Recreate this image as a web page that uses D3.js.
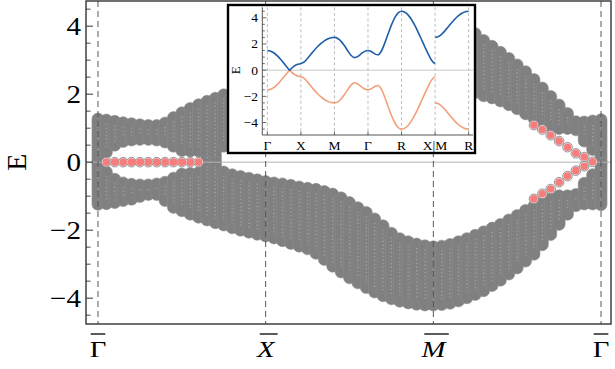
<!DOCTYPE html>
<html><head><meta charset="utf-8">
<script src="https://cdn.jsdelivr.net/npm/d3@7"></script>
<style>body{margin:0;background:#fff}svg{display:block}</style>
</head><body>
<svg id="c" width="615" height="369"></svg>
<script>
// ---------------- data (main slab spectrum, k index 0..60) ----------------
const kLabels = ["Γ", "X", "M", "Γ"];
const kLabelIdx = [0, 20, 40, 60];
const kLabelItalic = [false, true, true, false];
const yMajorTicks = [-4, -2, 0, 2, 4];
const yMinorTicks = [-4.5,-3.5,-3,-2.5,-1.5,-1,-0.5,0.5,1,1.5,2.5,3,3.5,4.5];

// upper band (energy of top-most / bottom-most state per k)
const upperTop = [1.27,1.24,1.20,1.16,1.13,1.10,1.08,1.08,1.15,1.31,
  1.45,1.58,1.69,1.79,1.88,1.98,2.03,2.09,2.14,2.19,
  2.23,2.29,2.37,2.45,2.53,2.61,2.73,2.89,3.08,3.25,
  3.41,3.56,3.70,3.83,3.93,4.02,4.09,4.14,4.18,4.20,
  4.20,4.19,4.15,4.08,3.95,3.78,3.58,3.41,3.23,3.05,
  2.86,2.66,2.43,2.18,1.93,1.68,1.43,1.19,1.18,1.21,1.25];
const upperBot = [0,0.29,0.50,0.61,0.65,0.67,0.67,0.65,0.59,0.47,
  0.34,0.33,0.33,0,0,0.47,0.47,0.52,0.57,0.62,
  0.67,0.71,0.74,0.78,0.83,0.87,0.90,0.96,1.04,1.15,
  1.29,1.44,1.58,1.77,1.97,2.17,2.32,2.42,2.47,2.50,
  2.52,2.50,2.45,2.37,2.22,2.05,1.95,1.89,1.80,1.69,
  1.57,1.42,1.29,1.17,1.05,0.99,0.99,0.95,0.62,0.37,0];
// lower band
const lowerTop = [0,-0.29,-0.50,-0.61,-0.65,-0.67,-0.67,-0.64,-0.59,-0.47,
  -0.35,-0.33,-0.31,0,0,-0.29,-0.37,-0.42,-0.47,-0.52,
  -0.57,-0.61,-0.64,-0.68,-0.73,-0.77,-0.80,-0.86,-0.94,-1.05,
  -1.19,-1.34,-1.48,-1.67,-1.87,-2.09,-2.25,-2.34,-2.41,-2.46,
  -2.49,-2.47,-2.42,-2.34,-2.25,-2.15,-2.05,-1.94,-1.83,-1.70,
  -1.57,-1.42,-1.29,-1.15,-1.05,-0.99,-0.99,-0.95,-0.62,-0.37,0];
const lowerBot = [-1.24,-1.22,-1.19,-1.13,-1.09,-1.01,-0.95,-0.95,-1.13,-1.33,
  -1.43,-1.53,-1.62,-1.70,-1.78,-1.85,-1.93,-2.00,-2.06,-2.12,
  -2.17,-2.23,-2.31,-2.39,-2.47,-2.55,-2.68,-2.86,-3.06,-3.23,
  -3.40,-3.55,-3.69,-3.82,-3.93,-4.02,-4.09,-4.14,-4.18,-4.20,
  -4.20,-4.19,-4.15,-4.08,-3.99,-3.89,-3.78,-3.63,-3.47,-3.29,
  -3.11,-2.91,-2.71,-2.43,-2.13,-1.83,-1.53,-1.28,-1.23,-1.23,-1.25];

// surface (Fermi-arc) states
const surfIdx = [1,2,3,4,5,6,7,8,9,10,11,12,
  52,53,54,55,56,57,58, 52,53,54,55,56,57,58, 59];
const surfE = [0,0,0,0,0,0,0,0,0,0,0,0,
  1.09,0.96,0.79,0.62,0.44,0.26,0.15, -1.08,-0.93,-0.79,-0.59,-0.41,-0.25,-0.12, 0.01];

// ---------------- data (inset bulk bands) ----------------
const insetLabels = ["Γ","X","M","Γ","R","X|M","R"];
const insetTicks = [-4,-2,0,2,4];
const insetK1 = [0,0.1,0.2,0.3,0.4,0.5,0.6,0.6667,0.7,0.8,0.9,1,
  1.1,1.2,1.3,1.4,1.5,1.6,1.7,1.8,1.9,2,
  2.1,2.2,2.3,2.4,2.5,2.6,2.7,2.8,2.9,3,
  3.1,3.2,3.3,3.4,3.5,3.6,3.7,3.8,3.9,4,
  4.1,4.2,4.3,4.4,4.5,4.6,4.7,4.8,4.9,5];
const insetUp1 = [1.5,1.451,1.309,1.088,0.809,0.5,0.191,0,0.088,0.309,0.451,0.5,
  0.630,0.907,1.219,1.524,1.803,2.044,2.239,2.382,2.470,2.5,
  2.422,2.198,1.861,1.468,1.118,0.959,1.054,1.263,1.436,1.5,
  1.422,1.245,1.174,1.462,2.062,2.775,3.459,4.014,4.375,4.5,
  4.424,4.201,3.850,3.396,2.872,2.313,1.750,1.212,0.741,0.5];
const insetDn1 = [-1.5,-1.451,-1.309,-1.088,-0.809,-0.5,-0.191,0,-0.088,-0.309,-0.451,-0.5,
  -0.630,-0.907,-1.219,-1.524,-1.803,-2.044,-2.239,-2.382,-2.470,-2.5,
  -2.422,-2.198,-1.861,-1.468,-1.118,-0.959,-1.054,-1.263,-1.436,-1.5,
  -1.422,-1.245,-1.174,-1.462,-2.062,-2.775,-3.459,-4.014,-4.375,-4.5,
  -4.424,-4.201,-3.850,-3.396,-2.872,-2.313,-1.750,-1.212,-0.741,-0.5];
const insetK2 = [5,5.1,5.2,5.3,5.4,5.5,5.6,5.7,5.8,5.9,6];
const insetUp2 = [2.5,2.568,2.754,3.022,3.330,3.640,3.926,4.167,4.349,4.462,4.5];
const insetDn2 = [-2.5,-2.568,-2.754,-3.022,-3.330,-3.640,-3.926,-4.167,-4.349,-4.462,-4.5];

// ---------------- drawing ----------------
const svg = d3.select("#c");
const FONT = "'Liberation Serif','Times New Roman',serif";
const x = d3.scaleLinear().domain([-1.43, 61.19]).range([86, 611]);
const y = d3.scaleLinear().domain([-4.76, 4.74]).range([324, 1]);
const R = 6;
const GRAY = "#808080";

svg.append("defs").append("clipPath").attr("id","plotclip")
  .append("rect").attr("x",86).attr("y",1).attr("width",525).attr("height",323);

const plot = svg.append("g").attr("clip-path","url(#plotclip)");

// band columns (range marks with round ends)
const cols = [];
d3.range(upperTop.length).forEach(i => {
  cols.push({i, lo: Math.min(upperBot[i], upperTop[i]), hi: Math.max(upperBot[i], upperTop[i])});
  cols.push({i, lo: Math.min(lowerBot[i], lowerTop[i]), hi: Math.max(lowerBot[i], lowerTop[i])});
});
plot.append("g").selectAll("rect").data(cols).join("rect")
  .attr("x", d => x(d.i) - R)
  .attr("width", 2*R)
  .attr("y", d => y(d.hi) - R)
  .attr("height", d => y(d.lo) - y(d.hi) + 2*R)
  .attr("rx", R).attr("ry", R)
  .attr("fill", GRAY)
  .attr("stroke", "#8c8c8c").attr("stroke-width", 0.6);
// faint level texture inside each column
plot.append("g").selectAll("line").data(cols.filter(d => d.hi - d.lo > 0.25)).join("line")
  .attr("x1", d => x(d.i)).attr("x2", d => x(d.i))
  .attr("y1", d => y(d.hi) + 4).attr("y2", d => y(d.lo) - 4)
  .attr("stroke", "#b2b2b2").attr("stroke-width", 1.3)
  .attr("stroke-dasharray", "1.1,2.6").attr("opacity", 0.75);

// zero line
plot.append("line").attr("x1",86).attr("x2",611).attr("y1",y(0)).attr("y2",y(0))
  .attr("stroke","#b4b4b4").attr("stroke-width",1);

// dashed high-symmetry lines
plot.append("g").selectAll("line").data(kLabelIdx).join("line")
  .attr("x1", d => x(d)).attr("x2", d => x(d)).attr("y1", 1).attr("y2", 324)
  .attr("stroke","#555").attr("stroke-width",1).attr("stroke-dasharray","6,4");

// surface states
const sg = plot.append("g");
sg.selectAll("circle.ring").data(surfIdx).join("circle").attr("class","ring")
  .attr("cx",(d)=>x(d)).attr("cy",(d,j)=>y(surfE[j])).attr("r",4.8)
  .attr("fill","#ececec").attr("stroke","#8a8a8a").attr("stroke-width",0.9);
sg.selectAll("circle.dot").data(surfIdx).join("circle").attr("class","dot")
  .attr("cx",(d)=>x(d)).attr("cy",(d,j)=>y(surfE[j])).attr("r",3.8)
  .attr("fill","#f77c7c");

// frame
svg.append("rect").attr("x",86).attr("y",1).attr("width",525).attr("height",323)
  .attr("fill","none").attr("stroke","#333").attr("stroke-width",1.4);

// y ticks
const ax = svg.append("g");
ax.selectAll("line.maj").data(yMajorTicks).join("line").attr("class","maj")
  .attr("x1",86).attr("x2",93).attr("y1",d=>y(d)).attr("y2",d=>y(d)).attr("stroke","#333").attr("stroke-width",1);
ax.selectAll("line.min").data(yMinorTicks).join("line").attr("class","min")
  .attr("x1",86).attr("x2",90.5).attr("y1",d=>y(d)).attr("y2",d=>y(d)).attr("stroke","#333").attr("stroke-width",0.9);
ax.selectAll("text").data(yMajorTicks).join("text")
  .attr("transform", d => `translate(81,${y(d)+9}) scale(1.12,1)`)
  .attr("text-anchor","end").attr("font-family",FONT).attr("font-size",26)
  .text(d => d < 0 ? "\u2212" + Math.abs(d) : String(d));
svg.append("text").attr("transform",`translate(26,${y(0)}) rotate(-90)`)
  .attr("text-anchor","middle").attr("font-family",FONT).attr("font-size",28).text("E");

// bottom labels with overbars
kLabels.forEach((lab, j) => {
  const t = svg.append("text")
    .attr("transform", `translate(${x(kLabelIdx[j])},357) scale(1.25,1)`)
    .attr("text-anchor","middle").attr("font-family",FONT).attr("font-size",23)
    .attr("font-style", kLabelItalic[j] ? "italic" : "normal").text(lab);
  const bb = t.node().getBBox();
  const sx = 1.25, cx = x(kLabelIdx[j]);
  const shift = kLabelItalic[j] ? 3 : 0;
  svg.append("line").attr("x1", cx + bb.x*sx + 1 + shift).attr("x2", cx + (bb.x+bb.width)*sx - 1 + shift)
    .attr("y1",334).attr("y2",334).attr("stroke","#000").attr("stroke-width",1.3);
});

// ---------------- inset ----------------
const ig = svg.append("g");
ig.append("rect").attr("x",228).attr("y",5).attr("width",247).attr("height",148)
  .attr("fill","#fff").attr("stroke","#000").attr("stroke-width",2.4);
const ix = d3.scaleLinear().domain([-0.15, 6.13]).range([262.3, 473]);
const iy = d3.scaleLinear().domain([-4.95, 4.8]).range([135, 7.3]);
// dashed k lines
ig.selectAll("line.kd").data(d3.range(insetLabels.length)).join("line").attr("class","kd")
  .attr("x1",d=>ix(d)).attr("x2",d=>ix(d)).attr("y1",iy(4.8)).attr("y2",iy(-4.95))
  .attr("stroke","#aaa").attr("stroke-width",0.8).attr("stroke-dasharray","3,2.5");
ig.append("line").attr("x1",ix(-0.15)).attr("x2",ix(6.13)).attr("y1",iy(0)).attr("y2",iy(0))
  .attr("stroke","#c8c8c8").attr("stroke-width",1);
// axes
ig.append("line").attr("x1",262.3).attr("x2",262.3).attr("y1",iy(4.8)).attr("y2",135).attr("stroke","#444").attr("stroke-width",0.9);
ig.append("line").attr("x1",262.3).attr("x2",473).attr("y1",135).attr("y2",135).attr("stroke","#444").attr("stroke-width",0.9);
const iMinor = d3.range(-4.5, 4.6, 0.5).filter(v => Math.abs(v % 2) > 1e-6);
ig.selectAll("line.imin").data(iMinor).join("line").attr("class","imin")
  .attr("x1",262.3).attr("x2",264.8).attr("y1",d=>iy(d)).attr("y2",d=>iy(d)).attr("stroke","#444").attr("stroke-width",0.8);
ig.selectAll("line.imaj").data(insetTicks).join("line").attr("class","imaj")
  .attr("x1",262.3).attr("x2",266.3).attr("y1",d=>iy(d)).attr("y2",d=>iy(d)).attr("stroke","#444").attr("stroke-width",0.8);
ig.selectAll("line.ibt").data(d3.range(insetLabels.length)).join("line").attr("class","ibt")
  .attr("x1",d=>ix(d)).attr("x2",d=>ix(d)).attr("y1",135).attr("y2",131.5).attr("stroke","#444").attr("stroke-width",0.8);
ig.selectAll("text.iyl").data(insetTicks).join("text").attr("class","iyl")
  .attr("x",258).attr("y",d=>iy(d)+4.5).attr("text-anchor","end")
  .attr("font-family",FONT).attr("font-size",13.5).text(d => d < 0 ? "\u2212" + Math.abs(d) : String(d));
ig.selectAll("text.ixl").data(insetLabels).join("text").attr("class","ixl")
  .attr("x",(d,j)=>ix(j)).attr("y",149.5).attr("text-anchor","middle")
  .attr("font-family",FONT).attr("font-size",13.5).text(d=>d);
ig.append("text").attr("transform",`translate(240,${iy(0)}) rotate(-90)`).attr("text-anchor","middle")
  .attr("font-family",FONT).attr("font-size",13).text("E");
// curves
const iline = d3.line().x(d=>ix(d[0])).y(d=>iy(d[1])).curve(d3.curveMonotoneX);
const curves = [
  [insetK1, insetDn1, "#f2a07b"], [insetK2, insetDn2, "#f2a07b"],
  [insetK1, insetUp1, "#1f5ea8"], [insetK2, insetUp2, "#1f5ea8"]];
curves.forEach(([ks, es, col]) => {
  ig.append("path").datum(ks.map((k,j)=>[k, es[j]])).attr("d", iline)
    .attr("fill","none").attr("stroke",col).attr("stroke-width",1.6);
});
</script>
</body></html>
